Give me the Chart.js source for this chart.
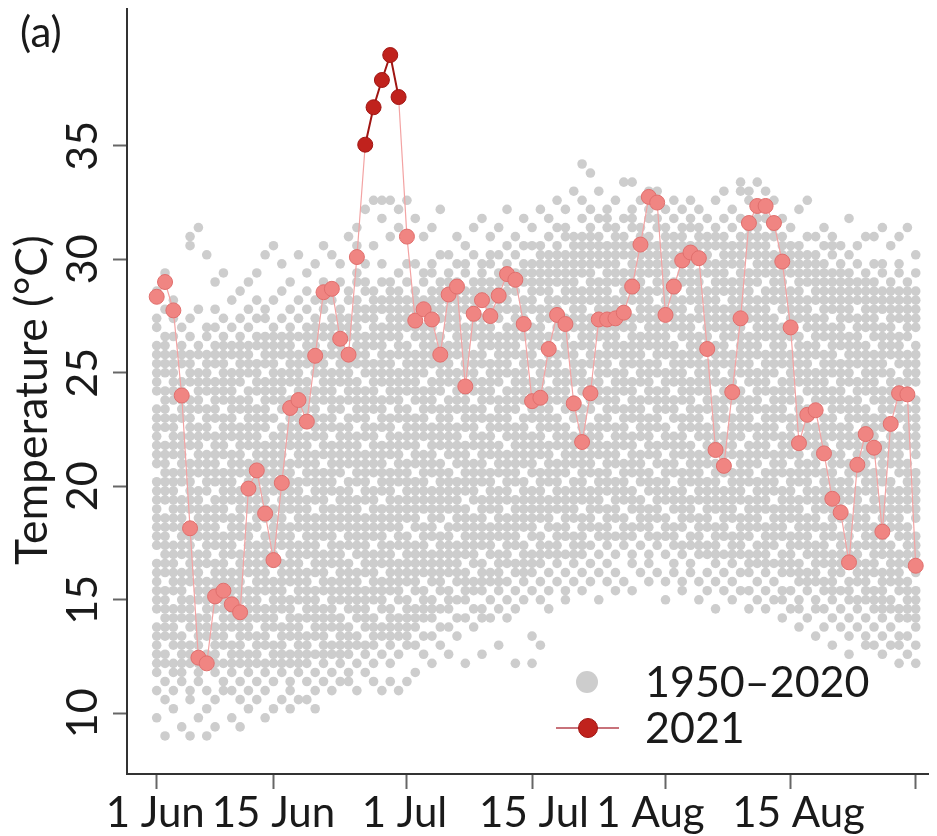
<!DOCTYPE html>
<html>
<head>
<meta charset="utf-8">
<script src="https://cdn.jsdelivr.net/npm/chart.js@4.4.1/dist/chart.umd.min.js"></script>
<style>
  html, body { margin: 0; padding: 0; background: #fff; }
  #wrap { width: 937px; height: 836px; }
</style>
</head>
<body>
<div id="wrap"><canvas id="tempChart" width="937" height="836"></canvas></div>
<script>
// day index 0 = 1 June, 91 = 31 August
const tickDays = [0, 14, 30, 45, 61, 76, 91];
const tickLabels = ['1 Jun', '15 Jun', '1 Jul', '15 Jul', '1 Aug', '15 Aug', ''];
const yTicks = [10, 15, 20, 25, 30, 35];

const temps2021 = [
  28.35, 29.0, 27.75, 24.0, 18.15, 12.45, 12.2, 15.15, 15.4, 14.8,
  14.45, 19.9, 20.7, 18.8, 16.75, 20.15, 23.45, 23.8, 22.85, 25.75,
  28.55, 28.7, 26.5, 25.8, 30.1, 35.05, 36.7, 37.9, 39.0, 37.15,
  31.0, 27.3, 27.8, 27.35, 25.8, 28.45, 28.8, 24.4, 27.6, 28.2,
  27.5, 28.4, 29.35, 29.1, 27.15, 23.75, 23.9, 26.05, 27.55, 27.15,
  23.65, 21.95, 24.1, 27.35, 27.35, 27.4, 27.65, 28.8, 30.65, 32.75,
  32.5, 27.55, 28.8, 29.95, 30.3, 30.05, 26.05, 21.6, 20.9, 24.15,
  27.4, 31.6, 32.35, 32.35, 31.6, 29.9, 27.0, 21.9, 23.15, 23.35,
  21.45, 19.45, 18.85, 16.65, 20.95, 22.3, 21.7, 18.0, 22.75, 24.1,
  24.05, 16.5
];

// 1950–2020 values, one string per day; each character is a 0.4 °C bin from 9.0 °C
const binChars = '0123456789ABCDEFGHIJKLMNOPQRSTUVWXYZabcdefghijklmnopqrstuvwxyz#$';
const binStart = 9.0;
const binStep = 0.4;
const pastByDay = [
  '25789ABCEFGHIJLMNOPQRSUVWXYZacdefghjkn',
  '04689BCDEFGIJKLMNOQRSTUVWYZabcefghilp',
  '3578ABCDEGHIJKLNOPQRSTVWXYZbcdefgikm',
  '16789ABDEFGHIKLMNOPQSTUVWXZabcdfghj',
  '04589ACDEFHIJKLMNPQRSTUWXYZabdefgikst',
  '2678ABCDFGHIJKMNOPQRTUVWXYabcdeghlu',
  '03589BCDEFGHJKLMNOPRSTUVXYZacdefgijr',
  '14789ABCEFGHIJLMNOPQSTUVWXZabcdfghjlo',
  '568ABCDEFHIJKLMOPQRSTVWXYZbcdefghikp',
  '25789ACDEFGHIKLMNOQRSTUVXYZabcdeghjm',
  '14689ABCDFGHIJKMNOPQRTUVWXYabdefghikn',
  '35789BCDEFGIJKLMNPQRSTUWXYZabcefghjlo',
  '4689ABDEFGHIJKLNOPQRSUVWXYZacdefhikmp',
  '2578ABCDEGHIJKLMOPQRSTUVWYZabcdfghiklr',
  '3689ACDEFGHJKLMNOPRSTUVWXZbcdefghijms',
  '4789ABCEFGHIJLMNOPQRTUVWXYabcdeghiknq',
  '35689BCDEFHIJKLMNPQRSTUWXYZabdefghijlo',
  '4789ABCDFGHIJKLNOPQRSUVWXYZacdefgikmr',
  '4689ABDEFGHIKLMNOPQSTUVWXZabcdfghijlnp',
  '3579BCDEFGIJKLMNOQRSTUVXYZabcefghijkmq',
  '689ABCDEGHIJKMNOPQRSTVWXYZbcdefgijlmos',
  '579ACDEFGHJKLMNOPRSTUVWYZabcdeghijkmnr',
  '689ABCDFGHIJKLNOPQRTUVWXYabdefghijkloq',
  '679ABCEFGHIJLMNOPQRSUVWXYZbcdefgijkmnt',
  '58ABDEFGHIKLMNOPQSTUVWXZabcdfghijklmopsu',
  '79ACDEFGIJKLMNOQRSTUVXYZabcefghiklnoqw',
  '68ABCDFGHIJKMNOPQRTUVWXYabcdefhijklmnsx',
  '59BCEFGHJKLMNOPRSTUVWYZabdefghijlmoqvx',
  '68ABCDEGHIJKLNOPQRSTVWXYZbcdefgijklmnotx',
  '59BCDFGHIJLMNOPQSTUVWXZabcdeghijklmnpuw',
  '6ABCDEFHIJKLMOPQRSTUWXYZacdefghjklmoqtx',
  '7ACDEGHIJKLNOPQRSUVWXYZbcdefgijklmnqv',
  '9BDEFGIJKLMNPQRSTUVXYZabcefghijlmopt',
  '8BDEFHIJKMNOPQRTUVWXYabcdfghijklmnpqu',
  'ACEGHIJKLMOPQRSTUWXYZacdefghiklmnorw',
  '9CEFGIJKLMNPQRSTVWXYZabdefghjklmnopr',
  'BDFHIJKLNOPQRSUVWXYabcdeghijklmnoqt',
  '8DFGHIKLMNOPRSTUVWYZabcefghijlmnpqs',
  'CEGHJKLMNOQRSTUWXYZacdefgijklmnoru',
  '9DEGHIJLMNOPQSTUVWXZabcdfghijkmnopqv',
  'DFHIKLMNPQRSTVWXYZbcdefhijklmnoqrt',
  'AEGHIJKMNOPQRTUVWYZabdefghiklmnopru',
  'DFHJKLMNOQRSTUVXYZabcefghijlmnopqsw',
  '8EGIJLMNOPQSTUVWXYabcdeghijklnoprt',
  'FHIJKLNOPQRSUVWXYZbcdefgijklmopqsv',
  '8BGIJKMNOPQRTUVWXZabcdfghijlmnopqsu',
  'AFHJKLMOPQRSTVWXYZacdefhijklnopqrsw',
  'EGIKLNOPQSTUVWYZabcefghiklmnopqrtv',
  'HJKLMNPQRSTUWXYZbcdefgijklmopqrsux',
  'FGIKMNOPQRTUVWXYabcdeghijkmnopqrtuw',
  'HJKLMOPQRSUVWXZabdefghjklmnopqrsty',
  'GIKLMNOQRSTUVXYZacdefhijklmnpqrstvx$',
  'HJLNOPQRTUVWXYabcdfghijkmnopqrstuw#',
  'FIKMNPQRSTVWXYZbcdefgijklmnoqrstvy',
  'HJLMNOPRSTUVWYZabcefghijlmnopqrsuvw',
  'GIKMOPQRSUVWXYabcdeghijklmopqrstux',
  'HLMNOQRSTUWXYZacdefghjklmnoprstvz',
  'GJKMNPQRTUVWXZabcdfghijkmnopqrsuvwz',
  'ILNOPQSTUVXYZabdefghiklmnopqrstux',
  'HJKMNOPRSTVWXYZbcdefhijklmnpqrstvwy',
  'ILMOPQRSUVWYZabcefghijklnopqrsuvxy',
  'FHKMNOQRSTUWXYabcdeghijlmnopqrstuw',
  'IJLMNPQRTUVWXZabdefghjklmnoqrstvx',
  'GHKLNOPQRSTVWXYZbcdefgijklmopqrstuw',
  'IJLMOPQSTUVWYZabcdfghijkmnopqrsuvx',
  'FHKLMNOQRSTUVXYZacdefghiklmnoprstuw',
  'GIKLNOPQRSUVWXYabcdefhijklmnpqrstv',
  'EHJKLMNPQRSTUWXYZabdefghjklmnopqstux',
  'GIKMNOPQRTUVWXZabcdfghijklnopqrstvy',
  'FHJKLMOPQRSTVWXYZbcdefgijklmnoqrsuw',
  'GIKLMNOQRSTUVXYZabcefghijlmnopqrstvyz',
  'EGIJKMNOPQSTUVWYZabdefghiklmnoprstuxy',
  'FHJKLNOPQRSUVWXYabcdeghijklmopqrstuvwz',
  'EGIJKLMNPQRSTVWXYZacdefgijklmnpqrstvy',
  'FHJLMNOPRSTUVXYZabcefghijkmnopqrtux',
  'DFGIJKMNOPQRTUVWXZabcdfghijlmnopqrstv',
  'EGIJKLMOPQRSTVWXYZbcdefgijklmnpqrsu',
  'CEFHIJLMNOPQSTUVWYZabdefghiklmnopqrsw',
  'DGHIKLMNOQRSTUWXYZacdefghjklmopqrtx',
  'BEFHIJKLNOPQRTUVWXYabcdeghijkmnopqrt',
  'CEGHJKLMNPQRSTVWXYZbcdefgijklmnopqsu',
  'ADFGHIJKMNOPRSTUVXYZabcefghijlmnoprst',
  'CEGIJKLMOPQRSUVWXYabcdefhijklmnopqs',
  '9BDFGHJKLMNOQRSTUWXYZabdefghiklmnoprv',
  'CEFHIJKLNOPQRTUVWXZabcdfghijkmnoqs',
  'ABDFGHIJLMNOPRSTUVWYZacdefghjklmnopt',
  'ACEFGIJKLMNPQRSTVWXYZbcdefgijklmnoqt',
  '9BDEFGHIKLMNOPQSTUVWYZabcefghijlmnpqu',
  'ACEFHIJKLNOPQRSUVWXYabcdeghijklmnos',
  '8ABDEGHIJKMNOPQRTUVWXZabcdfghiklmnpqt',
  '9BDEFGHJKLMNPQRSTUWXYZacdefgijklmnou',
  '8ACDEFGIJKLMOPQRSTVWXYZabdefghjklmnpr'
];

const fontFamily = 'Lato, "Open Sans", sans-serif';
const textColor = '#1a1a1a';
const greyDot = '#cdcdcd';
const pinkFill = '#f08582';
const pinkEdge = '#e06f6d';
const redFill = '#c0221d';
const redEdge = '#a01512';

const pastPoints = [];
const dayMax = pastByDay.map((s, d) => {
  let m = -Infinity;
  for (const c of s) {
    const t = binStart + binChars.indexOf(c) * binStep;
    pastPoints.push({ x: d, y: t });
    if (t > m) m = t;
  }
  return m;
});

// 2021 days hotter than any 1950–2020 value for that date
const isRecord = temps2021.map((t, d) => t > dayMax[d]);

const axisText = {
  id: 'axisText',
  afterDraw(chart) {
    const { ctx, scales: { x, y } } = chart;
    // date labels sit a little off their ticks
    const shift = [-1.5, 0, -2.5, 2, -15, 8, 0];
    ctx.save();
    ctx.fillStyle = textColor;
    ctx.font = '42px ' + fontFamily;
    ctx.textBaseline = 'alphabetic';
    ctx.textAlign = 'center';
    tickDays.forEach((d, i) => ctx.fillText(tickLabels[i], x.getPixelForValue(d) + shift[i], 827));
    ctx.font = '43px ' + fontFamily;
    yTicks.forEach(v => {
      ctx.save();
      ctx.translate(97, y.getPixelForValue(v));
      ctx.rotate(-Math.PI / 2);
      ctx.fillText(String(v), 0, 0);
      ctx.restore();
    });
    ctx.save();
    ctx.font = '44.5px ' + fontFamily;
    ctx.translate(47, 400);
    ctx.rotate(-Math.PI / 2);
    ctx.fillText('Temperature (°C)', 0, 0);
    ctx.restore();

    ctx.textAlign = 'left';
    ctx.font = '42px ' + fontFamily;
    ctx.fillText('(a)', 20, 47);

    // legend
    ctx.font = '43px ' + fontFamily;
    ctx.fillStyle = greyDot;
    ctx.beginPath();
    ctx.arc(587, 682, 11, 0, Math.PI * 2);
    ctx.fill();
    ctx.strokeStyle = '#c8727a';
    ctx.lineWidth = 2;
    ctx.beginPath();
    ctx.moveTo(556, 728);
    ctx.lineTo(619, 728);
    ctx.stroke();
    ctx.fillStyle = redFill;
    ctx.strokeStyle = redEdge;
    ctx.lineWidth = 1;
    ctx.beginPath();
    ctx.arc(588, 728, 9.5, 0, Math.PI * 2);
    ctx.fill();
    ctx.stroke();
    ctx.fillStyle = textColor;
    ctx.fillText('1950–2020', 645, 697);
    ctx.fillText('2021', 645, 743);
    ctx.restore();
  }
};

new Chart(document.getElementById('tempChart'), {
  type: 'scatter',
  data: {
    datasets: [
      {
        label: '2021',
        data: temps2021.map((t, d) => ({ x: d, y: t })),
        showLine: true,
        borderColor: '#f3a3a3',
        borderWidth: 1.2,
        pointRadius: 7.5,
        pointBorderWidth: 1,
        pointBackgroundColor: isRecord.map(r => r ? redFill : pinkFill),
        pointBorderColor: isRecord.map(r => r ? redEdge : pinkEdge),
        segment: {
          borderColor: c => isRecord[c.p0DataIndex] && isRecord[c.p1DataIndex] ? redEdge : undefined,
          borderWidth: c => isRecord[c.p0DataIndex] && isRecord[c.p1DataIndex] ? 2 : undefined
        }
      },
      {
        label: '1950–2020',
        data: pastPoints,
        pointRadius: 4.8,
        pointBorderWidth: 0,
        pointBackgroundColor: greyDot
      }
    ]
  },
  options: {
    responsive: false,
    animation: false,
    events: [],
    layout: { padding: { top: 5, right: 0, bottom: 0, left: 0 } },
    plugins: { legend: { display: false }, tooltip: { enabled: false } },
    scales: {
      x: {
        type: 'linear',
        min: -3.56,
        max: 92.53,
        afterBuildTicks: s => { s.ticks = tickDays.map(v => ({ value: v })); },
        afterFit: s => { s.height = 62; },
        grid: { drawOnChartArea: false, drawTicks: true, tickLength: 15, tickColor: '#666', tickWidth: 2 },
        border: { display: true, color: '#333', width: 2 },
        ticks: { display: false }
      },
      y: {
        min: 7.325,
        max: 41.05,
        afterBuildTicks: s => { s.ticks = yTicks.map(v => ({ value: v })); },
        afterFit: s => { s.width = 127; },
        grid: { drawOnChartArea: false, drawTicks: true, tickLength: 14, tickColor: '#666', tickWidth: 2 },
        border: { display: true, color: '#333', width: 2 },
        ticks: { display: false }
      }
    }
  },
  plugins: [axisText]
});
</script>
</body>
</html>
